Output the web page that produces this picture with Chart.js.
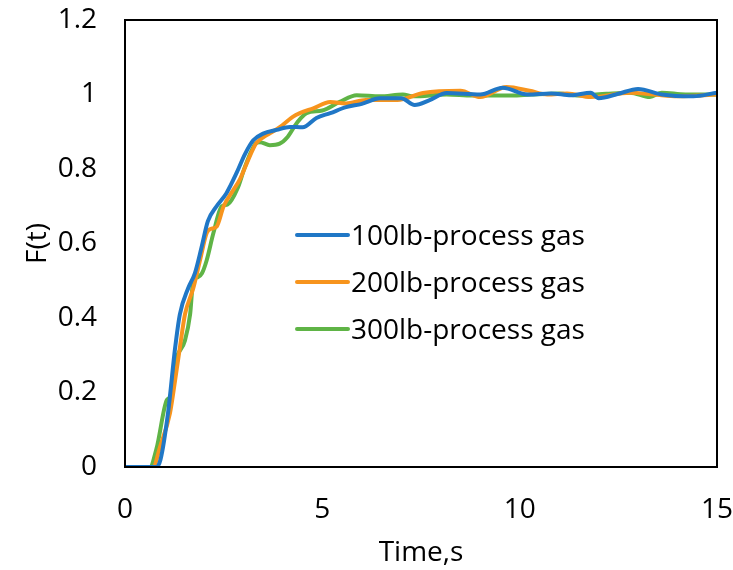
<!DOCTYPE html>
<html>
<head>
<meta charset="utf-8">
<script src="https://cdn.jsdelivr.net/npm/chart.js@4.4.0/dist/chart.umd.min.js"></script>
<style>
  html, body { margin: 0; padding: 0; background: #fff; }
  #wrap { width: 733px; height: 570px; }
</style>
</head>
<body>
<div id="wrap"><canvas id="chart" width="733" height="570"></canvas></div>
<script>
// Series labels and colours
const seriesNames = ['100lb-process gas', '200lb-process gas', '300lb-process gas'];
const seriesColors = ['#2077C6', '#F7941D', '#5FB446'];

// Time (s) and F(t)
const time100 = [0, 0.8, 0.9, 1.09, 1.27, 1.39, 1.6, 1.77, 1.94, 2.1, 2.32, 2.57, 2.83, 3.04, 3.25, 3.5, 3.84, 4.18, 4.5, 4.85, 5.2, 5.6, 6.0, 6.46, 7.0, 7.34, 7.72, 8.15, 9.0, 9.57, 10.2, 10.8, 11.3, 11.8, 12.0, 12.5, 13.0, 13.6, 14.4, 15];
const f100 = [0, 0, 0.02, 0.145, 0.32, 0.41, 0.48, 0.52, 0.59, 0.66, 0.70, 0.735, 0.79, 0.84, 0.877, 0.895, 0.905, 0.913, 0.912, 0.937, 0.95, 0.966, 0.975, 0.99, 0.99, 0.972, 0.985, 1.004, 1.0, 1.018, 1.0, 1.003, 0.998, 1.005, 0.99, 1.002, 1.015, 1.0, 0.995, 1.005];

const time200 = [0, 0.71, 0.89, 1.14, 1.27, 1.39, 1.52, 1.73, 1.9, 2.07, 2.2, 2.32, 2.5, 2.74, 2.9, 3.12, 3.33, 3.58, 3.93, 4.25, 4.43, 4.77, 5.2, 5.6, 6.1, 6.9, 7.55, 8.5, 9.0, 9.67, 10.25, 10.7, 11.2, 11.8, 12.8, 13.4, 14.0, 15];
const f200 = [0, 0, 0.055, 0.145, 0.233, 0.32, 0.41, 0.48, 0.555, 0.628, 0.64, 0.645, 0.70, 0.743, 0.77, 0.824, 0.87, 0.89, 0.913, 0.94, 0.95, 0.963, 0.98, 0.976, 0.985, 0.985, 1.004, 1.01, 0.993, 1.02, 1.01, 1.0, 1.003, 0.993, 1.005, 1.0, 0.995, 1.0];

const time300 = [0, 0.63, 0.8, 1.06, 1.15, 1.27, 1.52, 1.65, 1.73, 1.85, 1.95, 2.07, 2.24, 2.45, 2.6, 2.86, 3.04, 3.33, 3.42, 3.67, 3.92, 4.12, 4.35, 4.6, 5.0, 5.44, 5.87, 6.46, 7.04, 7.3, 8.15, 8.8, 9.8, 10.3, 11.0, 11.5, 12.2, 12.8, 13.3, 13.6, 14.2, 15];
const f300 = [0, 0, 0.05, 0.18, 0.19, 0.28, 0.34, 0.41, 0.50, 0.51, 0.52, 0.555, 0.628, 0.70, 0.705, 0.75, 0.806, 0.87, 0.872, 0.864, 0.868, 0.886, 0.923, 0.95, 0.957, 0.98, 0.998, 0.995, 1.0, 0.995, 1.0, 0.997, 0.997, 1.0, 1.003, 0.997, 1.002, 1.005, 0.993, 1.005, 1.0, 1.0];

// Axis ticks
const xTicks = [0, 5, 10, 15];
const yTicks = [0, 0.2, 0.4, 0.6, 0.8, 1, 1.2];

const FONT = 'Open Sans';
const FONT_SIZE = 28;

function toPoints(ts, vs) {
    return ts.map((t, i) => ({ x: t, y: vs[i] }));
}

const seriesData = [toPoints(time100, f100), toPoints(time200, f200), toPoints(time300, f300)];

// Draws the box around the plot area and the in-plot legend
const framePlugin = {
    id: 'frame',
    afterDatasetsDraw(chart) {
        const { ctx, chartArea: a } = chart;
        ctx.save();
        ctx.strokeStyle = '#000';
        ctx.lineWidth = 2;
        ctx.strokeRect(a.left, a.top, a.right - a.left, a.bottom - a.top);

        // legend
        const lx = 297, ly = 235, gap = 47;
        ctx.font = FONT_SIZE + 'px "' + FONT + '"';
        ctx.textBaseline = 'middle';
        ctx.textAlign = 'left';
        chart.data.datasets.forEach((ds, i) => {
            const y = ly + i * gap;
            ctx.strokeStyle = ds.borderColor;
            ctx.lineWidth = 4;
            ctx.lineCap = 'round';
            ctx.beginPath();
            ctx.moveTo(lx, y);
            ctx.lineTo(lx + 51, y);
            ctx.stroke();
            ctx.fillStyle = '#000';
            ctx.fillText(ds.label, lx + 54, y + 2);
        });
        ctx.restore();
    }
};

new Chart(document.getElementById('chart'), {
    type: 'line',
    data: {
        datasets: seriesNames.map((name, i) => ({
            label: name,
            data: seriesData[i],
            borderColor: seriesColors[i],
            backgroundColor: seriesColors[i],
            borderWidth: 4,
            pointRadius: 0,
            tension: 0.35,
            cubicInterpolationMode: 'monotone',
            fill: false
        }))
    },
    options: {
        responsive: false,
        animation: false,
        layout: { padding: { left: 0, right: 16, top: 20, bottom: 0 } },
        plugins: {
            legend: { display: false },
            tooltip: { enabled: false }
        },
        scales: {
            x: {
                type: 'linear',
                min: 0,
                max: 15,
                afterBuildTicks: (scale) => { scale.ticks = xTicks.map(v => ({ value: v })); },
                afterFit: (scale) => {
                    scale.height = 103;
                    scale.paddingLeft = 0;
                    scale.paddingRight = 0;
                },
                grid: { display: false },
                border: { display: false },
                ticks: { color: '#000', padding: 18, font: { family: FONT, size: FONT_SIZE } },
                title: { display: true, text: 'Time,s', color: '#000', padding: { top: 0, bottom: 0 }, font: { family: FONT, size: FONT_SIZE } }
            },
            y: {
                min: 0,
                max: 1.2,
                afterBuildTicks: (scale) => { scale.ticks = yTicks.map(v => ({ value: v })); },
                afterFit: (scale) => {
                    scale.width = 125;
                    scale.paddingTop = 0;
                    scale.paddingBottom = 0;
                },
                grid: { display: false },
                border: { display: false },
                ticks: {
                    color: '#000',
                    padding: 20,
                    font: { family: FONT, size: FONT_SIZE },
                    callback: (v) => String(parseFloat(v.toFixed(1)))
                },
                title: { display: true, text: 'F(t)', color: '#000', padding: { top: 21, bottom: 0 }, font: { family: FONT, size: FONT_SIZE } }
            }
        }
    },
    plugins: [framePlugin]
});
</script>
</body>
</html>
